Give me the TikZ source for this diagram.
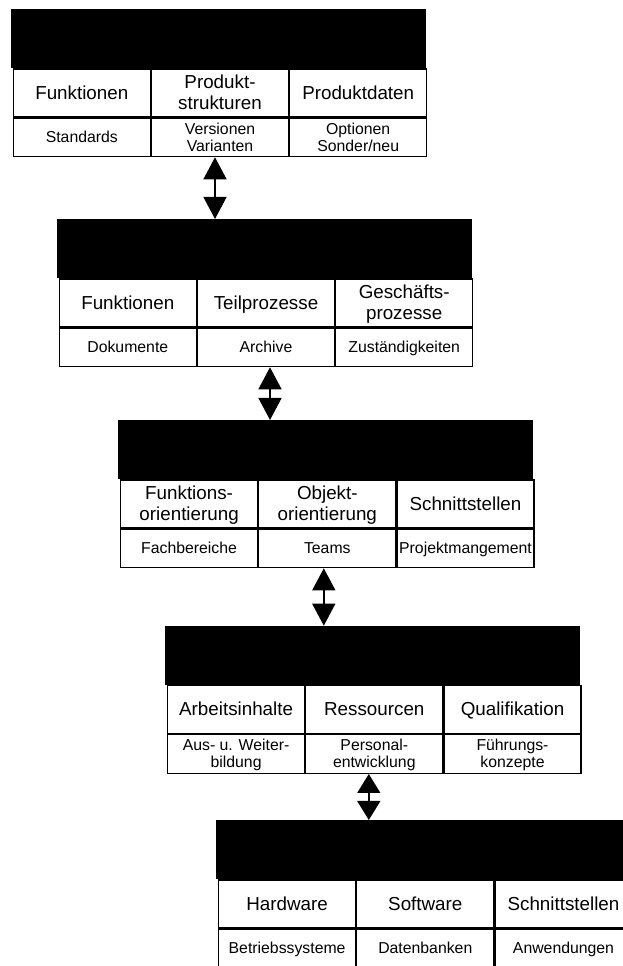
\documentclass[tikz,border=0pt]{standalone}
\usepackage{fontspec}
\setmainfont{Liberation Sans}
\usetikzlibrary{positioning,arrows.meta}

\newcommand{\stuetze}{\vrule width 0pt height .85em depth .2em}

\tikzset{
  balken/.style={fill=black, minimum width=415pt, minimum height=59pt, inner sep=0pt, anchor=north west},
  feld/.style={draw, line width=1.2pt, inner sep=0pt, align=center, minimum width=137pt},
  oben/.style={feld, minimum height=48pt, font=\fontsize{18.8}{19.5}\selectfont},
  unten/.style={feld, minimum height=38.5pt, font=\fontsize{15.8}{17}\selectfont},
  pfeil/.style={line width=1.5pt, {Triangle[length=#1,width=23pt]}-{Triangle[length=#1,width=23pt]}},
  pfeil/.default=22pt
}

% one level: black bar with two rows of three cells
\newcommand{\ebene}[8]{%
  \node [ balken ] (#1) at (#2) {};
  \node [ oben, below right=0pt and 2pt of #1.south west ] (#1a) {\stuetze#3\stuetze};
  \node [ oben, right=0pt of #1a ] (#1b) {\stuetze#4\stuetze};
  \node [ oben, right=0pt of #1b ] (#1c) {\stuetze#5\stuetze};
  \node [ unten, below=0pt of #1a ] (#1d) {\stuetze#6\stuetze};
  \node [ unten, below=0pt of #1b ] (#1e) {\stuetze#7\stuetze};
  \node [ unten, below=0pt of #1c ] (#1f) {\stuetze#8\stuetze};
}

\begin{document}
\begin{tikzpicture}[ x=1pt , y=1pt ]
\useasboundingbox (0,0) rectangle (623,966);
\clip (0,0) rectangle (623,966);

\ebene{e1}{10.7,957}{Funktionen}{Produkt-\\strukturen}{Produktdaten}{Standards}{Versionen\\Varianten}{Optionen\\Sonder/neu}
\ebene{e2}{56.7,747}{Funktionen}{Teilprozesse}{Geschäfts-\\prozesse}{Dokumente}{Archive}{Zuständigkeiten}
\ebene{e3}{118,546}{Funktions-\\orientierung}{Objekt-\\orientierung}{Schnittstellen}{Fachbereiche}{Teams}{Projektmangement}
\ebene{e4}{165,340.3}{Arbeitsinhalte}{Ressourcen}{Qualifikation}{Aus- u. Weiter-\\bildung}{Personal-\\entwicklung}{Führungs-\\konzepte}
\ebene{e5}{216,146}{Hardware}{Software}{Schnittstellen}{Betriebssysteme}{Datenbanken}{Anwendungen}

\draw [ pfeil ] ([xshift=-5pt]e1e.south) -- ([xshift=-5pt]e1e.south |- e2.north);
\draw [ pfeil ] ([xshift=4pt]e2e.south) -- ([xshift=4pt]e2e.south |- e3.north);
\draw [ pfeil ] ([xshift=-3.5pt]e3e.south) -- ([xshift=-3.5pt]e3e.south |- e4.north);
\draw [ pfeil=19pt ] ([xshift=-5.5pt]e4e.south) -- ([xshift=-5.5pt]e4e.south |- e5.north);
\end{tikzpicture}
\end{document}
